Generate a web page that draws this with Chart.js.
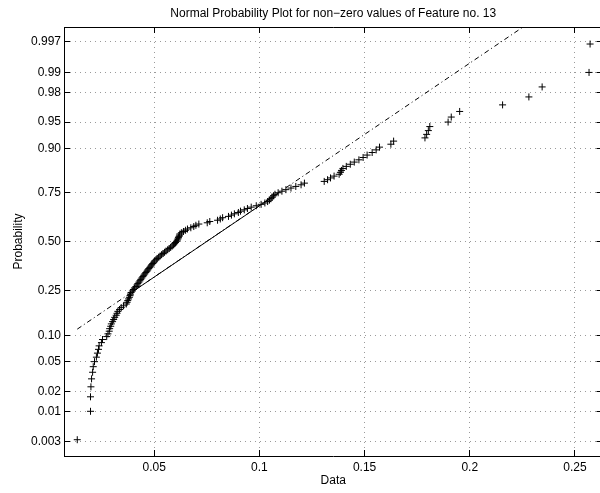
<!DOCTYPE html>
<html>
<head>
<meta charset="utf-8">
<script src="https://cdn.jsdelivr.net/npm/chart.js@4"></script>
<style>
  html, body { margin:0; padding:0; background:#fff; overflow:hidden; }
  #wrap { width:607px; height:493px; }
</style>
</head>
<body>
<div id="wrap"><canvas id="c" width="607" height="493"></canvas></div>
<script>
// Sorted data values (x) and their plotted probabilities
const dataX = [
  0.0134,0.0197,0.0197,0.0199,0.0202,0.0207,0.0210,0.0216,0.0225,0.0230,
  0.0235,0.0238,0.0249,0.0254,0.0274,0.0280,0.0286,0.0288,0.0293,0.0296,
  0.0302,0.0307,0.0312,0.0319,0.0323,0.0327,0.0335,0.0343,0.0354,0.0367,
  0.0371,0.0374,0.0378,0.0382,0.0385,0.0387,0.0390,0.0396,0.0401,0.0406,
  0.0413,0.0418,0.0422,0.0427,0.0432,0.0436,0.0441,0.0446,0.0450,0.0455,
  0.0460,0.0465,0.0469,0.0474,0.0479,0.0484,0.0488,0.0493,0.0498,0.0502,
  0.0509,0.0514,0.0521,0.0528,0.0535,0.0542,0.0549,0.0556,0.0564,0.0571,
  0.0578,0.0585,0.0592,0.0597,0.0601,0.0606,0.0610,0.0613,0.0615,0.0618,
  0.0620,0.0622,0.0629,0.0639,0.0649,0.0658,0.0674,0.0688,0.0698,0.0712,
  0.0752,0.0764,0.0801,0.0814,0.0825,0.0853,0.0867,0.0881,0.0900,0.0910,
  0.0928,0.0943,0.0961,0.0985,0.1008,0.1026,0.1039,0.1048,0.1055,0.1060,
  0.1067,0.1074,0.1089,0.1107,0.1126,0.1150,0.1173,0.1198,0.1214,0.1308,
  0.1324,0.1338,0.1355,0.1379,0.1385,0.1390,0.1397,0.1413,0.1432,0.1451,
  0.1473,0.1493,0.1512,0.1536,0.1555,0.1571,0.1625,0.1638,0.1787,0.1795,
  0.1803,0.1810,0.1897,0.1912,0.1952,0.2156,0.2281,0.2344,0.2567,0.2572
];
const dataP = [
  0.0033,0.0100,0.0167,0.0233,0.0300,0.0367,0.0433,0.0500,0.0567,0.0633,
  0.0700,0.0767,0.0833,0.0900,0.0967,0.1033,0.1100,0.1167,0.1233,0.1300,
  0.1367,0.1433,0.1500,0.1567,0.1633,0.1700,0.1767,0.1833,0.1900,0.1967,
  0.2033,0.2100,0.2167,0.2233,0.2300,0.2367,0.2433,0.2500,0.2567,0.2633,
  0.2700,0.2767,0.2833,0.2900,0.2967,0.3033,0.3100,0.3167,0.3233,0.3300,
  0.3367,0.3433,0.3500,0.3567,0.3633,0.3700,0.3767,0.3833,0.3900,0.3967,
  0.4033,0.4100,0.4167,0.4233,0.4300,0.4367,0.4433,0.4500,0.4567,0.4633,
  0.4700,0.4767,0.4833,0.4900,0.4967,0.5033,0.5100,0.5167,0.5233,0.5300,
  0.5367,0.5433,0.5500,0.5567,0.5633,0.5700,0.5767,0.5833,0.5900,0.5967,
  0.6033,0.6100,0.6167,0.6233,0.6300,0.6367,0.6433,0.6500,0.6567,0.6633,
  0.6700,0.6767,0.6833,0.6900,0.6967,0.7033,0.7100,0.7167,0.7233,0.7300,
  0.7367,0.7433,0.7500,0.7567,0.7633,0.7700,0.7767,0.7833,0.7900,0.7967,
  0.8033,0.8100,0.8167,0.8233,0.8300,0.8367,0.8433,0.8500,0.8567,0.8633,
  0.8700,0.8767,0.8833,0.8900,0.8967,0.9033,0.9100,0.9167,0.9233,0.9300,
  0.9367,0.9433,0.9500,0.9567,0.9633,0.9700,0.9767,0.9833,0.9900,0.9967
];

// Quartile segment (solid) and the extended reference line (dash-dot)
const quartileX = [0.0402, 0.1092];
const quartileP = [0.25, 0.75];
const refLineX = [0.0134, 0.2569];
const refLineP = [0.1154, 0.99982];

// Axis ticks
const probTicks = [0.003,0.01,0.02,0.05,0.10,0.25,0.50,0.75,0.90,0.95,0.98,0.99,0.997];
const probLabels = ["0.003","0.01","0.02","0.05","0.10","0.25","0.50","0.75","0.90","0.95","0.98","0.99","0.997"];
const xTicks = [0.05,0.1,0.15,0.2,0.25];
const xTickLabels = ["0.05","0.1","0.15","0.2","0.25"];

// Inverse normal CDF (Acklam), used for the probability scale
function norminv(p){
  const a=[-3.969683028665376e+01,2.209460984245205e+02,-2.759285104469687e+02,1.383577518672690e+02,-3.066479806614716e+01,2.506628277459239e+00];
  const b=[-5.447609879822406e+01,1.615858368580409e+02,-1.556989798598866e+02,6.680131188771972e+01,-1.328068155288572e+01];
  const c=[-7.784894002430293e-03,-3.223964580411365e-01,-2.400758277161838e+00,-2.549732539343734e+00,4.374664141464968e+00,2.938163982698783e+00];
  const d=[7.784695709041462e-03,3.224671290700398e-01,2.445134137142996e+00,3.754408661907416e+00];
  const pl = 0.02425;
  if(p < pl){
    const q = Math.sqrt(-2*Math.log(p));
    return (((((c[0]*q+c[1])*q+c[2])*q+c[3])*q+c[4])*q+c[5])/((((d[0]*q+d[1])*q+d[2])*q+d[3])*q+1);
  }
  if(p > 1-pl){
    const q = Math.sqrt(-2*Math.log(1-p));
    return -(((((c[0]*q+c[1])*q+c[2])*q+c[3])*q+c[4])*q+c[5])/((((d[0]*q+d[1])*q+d[2])*q+d[3])*q+1);
  }
  const q = p-0.5, r = q*q;
  return (((((a[0]*r+a[1])*r+a[2])*r+a[3])*r+a[4])*r+a[5])*q/(((((b[0]*r+b[1])*r+b[2])*r+b[3])*r+b[4])*r+1);
}

const toPoints = (xs, ps) => xs.map((x,i) => ({x: x, y: norminv(ps[i])}));

// Axes box on top + inward tick marks (MATLAB style)
function align(v){ return Math.round(v - 0.5) + 0.5; }
const boxPlugin = {
  id: "box",
  afterDraw(chart){
    const {ctx, chartArea: a, scales: {x, y}} = chart;
    ctx.save();
    ctx.strokeStyle = "#000";
    ctx.lineWidth = 1;
    ctx.beginPath();
    ctx.moveTo(a.left, align(a.top)); ctx.lineTo(a.right, align(a.top));
    ctx.moveTo(align(a.right), a.top); ctx.lineTo(align(a.right), a.bottom);
    x.ticks.forEach(t => {
      const px = align(x.getPixelForValue(t.value));
      ctx.moveTo(px, a.bottom); ctx.lineTo(px, a.bottom-6);
      ctx.moveTo(px, a.top); ctx.lineTo(px, a.top+6);
    });
    y.ticks.forEach(t => {
      const py = align(y.getPixelForValue(t.value));
      ctx.moveTo(a.left, py); ctx.lineTo(a.left+6, py);
      ctx.moveTo(a.right, py); ctx.lineTo(a.right-6, py);
    });
    ctx.stroke();
    ctx.restore();
  }
};

Chart.defaults.font.family = "'Liberation Sans', Arial, Helvetica, sans-serif";
Chart.defaults.font.size = 12;
Chart.defaults.color = "#000";

const gridDots = { color: "#9a9a9a", lineWidth: 1, drawTicks: false };

new Chart(document.getElementById("c"), {
  type: "scatter",
  data: {
    datasets: [
      {
        data: toPoints(dataX, dataP),
        pointStyle: "cross", pointRadius: 3.5, pointHoverRadius: 3.5,
        borderColor: "#000", backgroundColor: "#000", borderWidth: 1
      },
      {
        data: toPoints(quartileX, quartileP),
        showLine: true, pointRadius: 0, borderColor: "#000", borderWidth: 1
      },
      {
        data: toPoints(refLineX, refLineP),
        showLine: true, pointRadius: 0, borderColor: "#000", borderWidth: 1,
        borderDash: [5,3,1,3]
      }
    ]
  },
  options: {
    responsive: false,
    animation: false,
    layout: { padding: 0 },
    plugins: {
      legend: { display: false },
      tooltip: { enabled: false },
      title: {
        display: true, fullSize: false,
        text: "Normal Probability Plot for non\u2212zero values of Feature no. 13",
        font: { size: 12, weight: "normal" },
        padding: { top: 6.8, bottom: 5.8 }
      }
    },
    scales: {
      x: {
        type: "linear", min: 0.0071, max: 0.2631,
        grid: gridDots,
        border: { display: true, color: "#000", width: 1, dash: [1,4] },
        ticks: { padding: 4, maxRotation: 0, autoSkip: false, callback: (v, i) => xTickLabels[i] },
        afterBuildTicks: s => { s.ticks = xTicks.map(v => ({value: v})); },
        afterFit: s => { s.height = 37; },
        title: { display: true, text: "Data", font: { size: 12 }, padding: { top: 0, bottom: 4.8 } }
      },
      y: {
        type: "linear", min: -2.94, max: 2.95,
        grid: gridDots,
        border: { display: true, color: "#000", width: 1, dash: [1,4] },
        ticks: { padding: 3, autoSkip: false, callback: (v, i) => probLabels[i] },
        afterBuildTicks: s => { s.ticks = probTicks.map(p => ({value: norminv(p)})); },
        afterFit: s => { s.width = 64; },
        title: { display: true, text: "Probability", font: { size: 12 }, padding: { top: 11, bottom: 0 } }
      }
    }
  },
  plugins: [boxPlugin]
});
</script>
</body>
</html>
